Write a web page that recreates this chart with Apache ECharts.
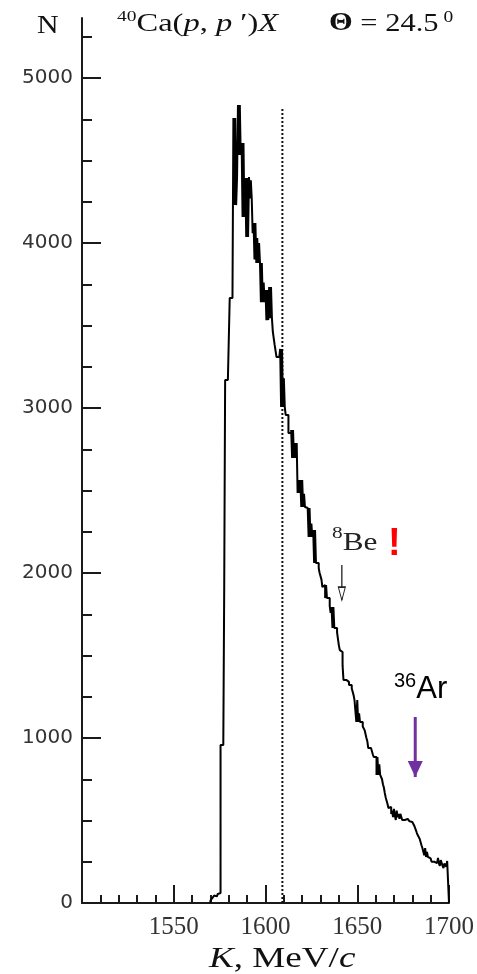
<!DOCTYPE html>
<html>
<head>
<meta charset="utf-8">
<script src="https://cdn.jsdelivr.net/npm/echarts@6/dist/echarts.min.js"></script>
<style>
  html, body { margin: 0; padding: 0; background: #ffffff; }
  #chart { width: 477px; height: 974px; }
</style>
</head>
<body>
<div id="chart"></div>
<script>
// Inclusive proton spectrum, 0.5 MeV/c channels starting at binStart
const binStart = 1570;
const binWidth = 0.5;
const counts = [
  15, 20, 30, 35, 45, 45, 40, 50, 55, 60,                 // 1570-1574.5
  60, 958, 958, 958, 958, 1909, 3170, 3170, 3170, 3170,   // 1575-1579.5
  3170, 3667, 3667, 3667, 3667, 4758, 4230, 4758, 4230, 4400, // 1580-1584.5
  4836, 4533, 4836, 4533, 4606, 4158, 4606, 4158, 4394, 4036, // 1585-1589.5
  4394, 4036, 4400, 4270, 4380, 4270, 4060, 4121, 3900, 4121, // 1590-1594.5
  3879, 4030, 3879, 4000, 3879, 3642, 3879, 3642, 3760, 3642, // 1595-1599.5
  3715, 3533, 3715, 3533, 3733, 3545, 3733, 3545, 3461, 3461, // 1600-1604.5
  3382, 3382, 3309, 3309, 3309, 3309, 3358, 3006, 3358, 3006, // 1605-1609.5
  3180, 3006, 2958, 2958, 2958, 2848, 2848, 2848, 2867, 2697, // 1610-1614.5
  2867, 2697, 2788, 2697, 2788, 2485, 2564, 2485, 2564, 2400, // 1615-1619.5
  2564, 2400, 2480, 2400, 2394, 2394, 2394, 2218, 2394, 2218, // 1620-1624.5
  2300, 2218, 2261, 2061, 2261, 2061, 2061, 2061, 2030, 2000, // 1625-1629.5
  1990, 1960, 1915, 1915, 1927, 1848, 1927, 1848, 1848, 1848, // 1630-1634.5
  1800, 1758, 1794, 1667, 1794, 1667, 1667, 1667, 1640, 1600, // 1635-1639.5
  1560, 1533, 1521, 1521, 1440, 1352, 1352, 1352, 1352, 1340, // 1640-1644.5
  1340, 1321, 1321, 1321, 1300, 1280, 1260, 1230, 1230, 1097, // 1645-1649.5
  1230, 1097, 1150, 1097, 1097, 1097, 1070, 1060, 1048, 1048, // 1650-1654.5
  1000, 980, 939, 939, 939, 939, 920, 900, 885, 885,        // 1655-1659.5
  885, 776, 885, 776, 840, 776, 776, 750, 720, 700,         // 1660-1664.5
  667, 640, 620, 600, 576, 582, 582, 540, 560, 520,         // 1665-1669.5
  570, 530, 503, 560, 520, 540, 510, 540, 540, 503,         // 1670-1674.5
  515, 503, 515, 510, 510, 505, 500, 495, 491, 491,         // 1675-1679.5
  491, 480, 470, 460, 440, 424, 410, 400, 390, 370,         // 1680-1684.5
  350, 333, 333, 290, 333, 279, 310, 279, 279, 270,         // 1685-1689.5
  260, 250, 242, 250, 250, 242, 242, 240, 273, 240,         // 1690-1694.5
  225, 260, 260, 225, 212, 240, 230, 220, 255, 255          // 1695-1699.5
];

// Axis ranges and ticks
const xRange = [1500, 1700];
const xMajorTicks = [1550, 1600, 1650, 1700];
const xMinorTicks = [1510, 1520, 1530, 1540, 1560, 1570, 1580, 1590, 1610, 1620, 1630, 1640, 1660, 1670, 1680, 1690];
const yRange = [0, 5364];
const yMajorTicks = [0, 1000, 2000, 3000, 4000, 5000];
const yMinorTicks = [250, 500, 750, 1250, 1500, 1750, 2250, 2500, 2750, 3250, 3500, 3750, 4250, 4500, 4750, 5250];

// Reference cut (dotted) and marked positions
const cutK = 1609.2;
const cutTop = 4820;
const beArrow = { k: 1641.6, from: 2048, to: 1836 };
const arArrow = { k: 1681.6, from: 1127, to: 764 };

// Step outline: each point opens a channel, held until the next one
const stepPoints = [[binStart, 0]];
counts.forEach((c, i) => stepPoints.push([binStart + i * binWidth, c]));
const lastEdge = binStart + counts.length * binWidth;
stepPoints.push([lastEdge, counts[counts.length - 1]]);
stepPoints.push([lastEdge, 0]);

const axisColor = '#1a1a1a';
const plain = v => String(v);
const tickStyle = { color: axisColor, width: 2 };

// bare axis that only carries a set of inward ticks
function tickOnlyAxis(range, position, values, length) {
  return {
    type: 'value', min: range[0], max: range[1], position: position,
    splitLine: { show: false },
    axisLine: { show: false },
    axisLabel: { show: false },
    axisTick: { show: true, inside: true, length: length, customValues: values, lineStyle: tickStyle }
  };
}

const chart = echarts.init(document.getElementById('chart'), null, { renderer: 'canvas' });

chart.setOption({
  animation: false,
  backgroundColor: '#ffffff',
  grid: { left: 82, right: 25, top: 18, bottom: 71, containLabel: false },
  xAxis: [
    {
      type: 'value', min: xRange[0], max: xRange[1], position: 'bottom',
      splitLine: { show: false },
      axisLine: { show: true, onZero: false, lineStyle: { color: axisColor, width: 2 } },
      axisTick: { show: true, inside: true, length: 18, customValues: xMajorTicks, lineStyle: tickStyle },
      axisLabel: { customValues: xMajorTicks, formatter: plain, margin: 12, fontSize: 25, fontFamily: 'Liberation Serif', color: '#333' }
    },
    tickOnlyAxis(xRange, 'bottom', xMinorTicks, 8)
  ],
  yAxis: [
    {
      type: 'value', min: yRange[0], max: yRange[1], position: 'left',
      splitLine: { show: false },
      axisLine: { show: true, onZero: false, lineStyle: { color: axisColor, width: 2 } },
      axisTick: { show: true, inside: true, length: 19, customValues: yMajorTicks, lineStyle: tickStyle },
      axisLabel: { customValues: yMajorTicks, formatter: plain, margin: 9, fontSize: 20, fontFamily: 'DejaVu Sans', color: '#333' }
    },
    tickOnlyAxis(yRange, 'left', yMinorTicks, 10)
  ],
  series: [
    {
      name: 'spectrum',
      type: 'line',
      step: 'end',
      data: stepPoints,
      showSymbol: false,
      symbol: 'none',
      lineStyle: { color: '#000', width: 2 },
      silent: true,
      z: 3
    },
    {
      name: 'cut',
      type: 'line',
      data: [[cutK, 0], [cutK, cutTop]],
      symbol: 'none',
      lineStyle: { color: '#111', width: 2, type: [2, 2] },
      silent: true,
      z: 2
    },
    {
      name: 'Be8 arrow',
      type: 'line',
      data: [
        { value: [beArrow.k, beArrow.from], symbol: 'none' },
        {
          value: [beArrow.k, beArrow.to],
          symbol: 'path://M0,0 L10,0 L5,18 Z',
          symbolSize: [7, 13],
          symbolOffset: [0, -6.5],
          symbolKeepAspect: false,
          itemStyle: { color: '#ffffff', borderColor: '#222', borderWidth: 1.2 }
        }
      ],
      showSymbol: true,
      lineStyle: { color: '#222', width: 1.3 },
      silent: true,
      z: 4
    },
    {
      name: 'Ar36 arrow',
      type: 'line',
      data: [
        { value: [arArrow.k, arArrow.from], symbol: 'none' },
        {
          value: [arArrow.k, arArrow.to],
          symbol: 'path://M0,0 L10,0 L5,10 Z',
          symbolSize: [15, 16],
          symbolOffset: [0, -8],
          symbolKeepAspect: false,
          itemStyle: { color: '#7030a0' }
        }
      ],
      showSymbol: true,
      lineStyle: { color: '#7030a0', width: 3 },
      silent: true,
      z: 4
    }
  ],
  graphic: [
    {
      type: 'text', x: 37, y: 13, scaleX: 1.15,
      style: { text: 'N', font: '26px "Liberation Serif"', fill: '#111', verticalAlign: 'top' }
    },
    {
      type: 'text', x: 117, y: 10, scaleX: 1.3,
      style: {
        text: '{s|40}{n|Ca(}{i|p}{n|, }{i|p}{n| \u2032)}{i|X}',
        verticalAlign: 'top',
        rich: {
          s: { font: '15px "Liberation Serif"', fill: '#111', verticalAlign: 'top', lineHeight: 28 },
          n: { font: '25px "Liberation Serif"', fill: '#111', lineHeight: 28 },
          i: { font: 'italic 25px "Liberation Serif"', fill: '#111', lineHeight: 28 }
        }
      }
    },
    {
      type: 'text', x: 329, y: 10, scaleX: 1.22,
      style: {
        text: '{t|\u0398}{n| = 24.5}{s| 0}',
        verticalAlign: 'top',
        rich: {
          t: { font: 'bold 25px "Liberation Serif"', fill: '#111', lineHeight: 28 },
          n: { font: '25px "Liberation Serif"', fill: '#111', lineHeight: 28 },
          s: { font: '16px "Liberation Serif"', fill: '#111', verticalAlign: 'top', lineHeight: 28 }
        }
      }
    },
    {
      type: 'text', x: 209, y: 942, scaleX: 1.28,
      style: {
        text: '{i|K}{n|, MeV/}{i|c}',
        verticalAlign: 'top',
        rich: {
          n: { font: '29px "Liberation Serif"', fill: '#111', lineHeight: 34 },
          i: { font: 'italic 29px "Liberation Serif"', fill: '#111', lineHeight: 34 }
        }
      }
    },
    {
      type: 'text', x: 332, y: 525, scaleX: 1.25,
      style: {
        text: '{s|8}{n|Be}',
        verticalAlign: 'top',
        rich: {
          s: { font: '17px "Liberation Serif"', fill: '#222', verticalAlign: 'top', lineHeight: 36 },
          n: { font: '25px "Liberation Serif"', fill: '#222', lineHeight: 36 }
        }
      }
    },
    {
      type: 'text', x: 388, y: 526,
      style: { text: '!', font: 'bold 38px "Liberation Sans"', fill: '#ff0000', verticalAlign: 'top' }
    },
    {
      type: 'text', x: 394, y: 671,
      style: {
        text: '{s|36}{n|Ar}',
        verticalAlign: 'top',
        rich: {
          s: { font: '20px "Liberation Sans"', fill: '#000', verticalAlign: 'top', lineHeight: 36 },
          n: { font: '31px "Liberation Sans"', fill: '#000', lineHeight: 36 }
        }
      }
    }
  ]
});
</script>
</body>
</html>
